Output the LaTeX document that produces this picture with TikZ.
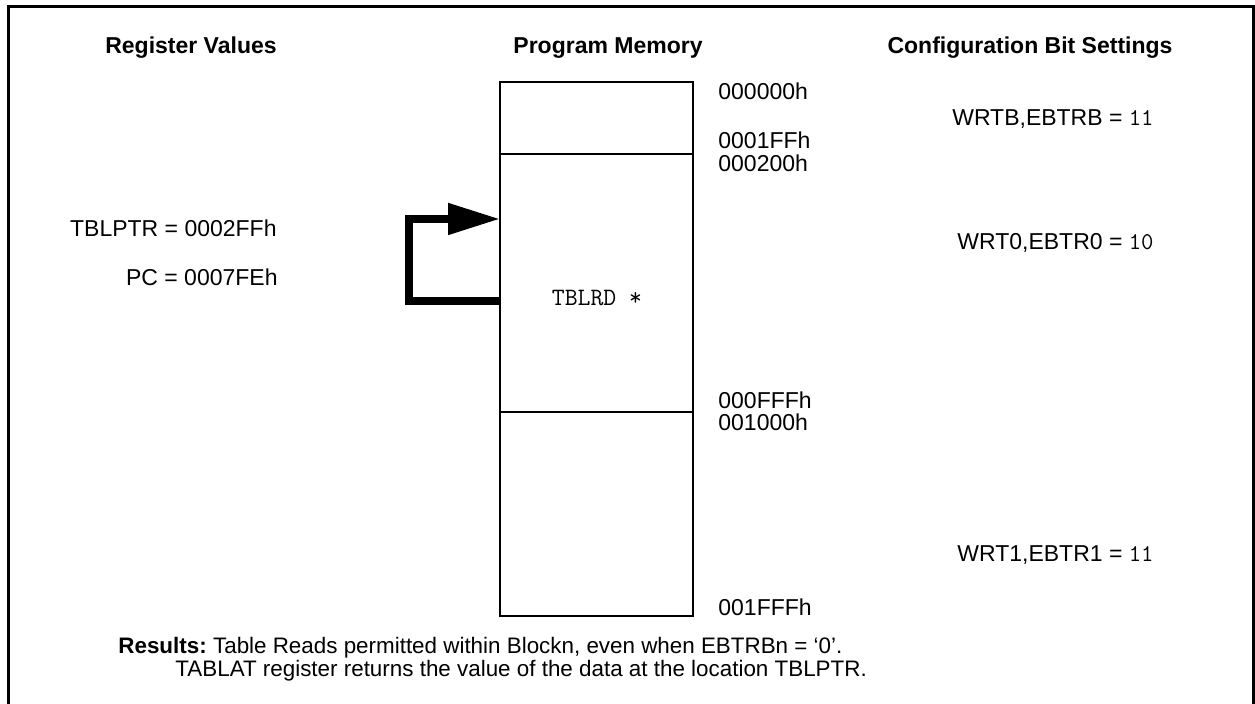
\documentclass[tikz,border=0pt]{standalone}
\usepackage{fontspec}
\setmainfont{Liberation Sans}
\usepackage{tikz}
\usetikzlibrary{arrows.meta}
\newcommand{\bitval}[1]{{\fontsize{12}{14}\ttfamily #1}}

\begin{document}
\begin{tikzpicture}[
    x=0.5pt,y=0.5pt,
    line join=miter,
    frameline/.style={line width=1.5pt, draw=black},
    memblock/.style={draw=black, line width=0.75pt, minimum width=96.5pt, inner sep=0pt, outer sep=0pt},
    heading/.style={font=\fontsize{11.5}{13.8}\selectfont\bfseries, align=center},
    addr/.style={font=\fontsize{11.5}{13.8}\selectfont, anchor=west, inner sep=0pt},
    regval/.style={font=\fontsize{11.5}{13.8}\selectfont, anchor=east, inner sep=0pt},
    cfgbits/.style={font=\fontsize{11.5}{13.8}\selectfont, anchor=east, inner sep=0pt},
    note/.style={font=\fontsize{11.2}{13.4}\selectfont, anchor=west, inner sep=0pt},
    readloop/.style={-{Triangle[length=26pt,width=15pt]}, line width=4pt, line cap=butt}
]
\useasboundingbox (0,0) rectangle (1255,704);

% Outer frame
\draw[frameline] (8,-10) -- (8,697) -- (1253.5,697) -- (1253.5,-10);

% Column headings
\node[heading] (hreg) at (191,656) {Register Values};
\node[heading] (hmem) at (608,656) {Program Memory};
\node[heading] (hcfg) at (1030,656) {Configuration Bit Settings};

% Program memory blocks
\node[memblock, minimum height=36pt]  (blkB) at (596.5,586) {};
\node[memblock, minimum height=129pt] (blk0) at (596.5,421) {};
\node[memblock, minimum height=102pt] (blk1) at (596.5,190) {};
\node[font=\fontsize{12.5}{14}\ttfamily] (tblrd) at (597,406) {TBLRD *};

% Addresses
\node[addr] (a0) at (718,613) {000000h};
\node[addr] (a1) at (718,564) {0001FFh};
\node[addr] (a2) at (718,541) {000200h};
\node[addr] (a3) at (718,304) {000FFFh};
\node[addr] (a4) at (718,282) {001000h};
\node[addr] (a5) at (718,97)  {001FFFh};

% Configuration bits
\node[cfgbits] (cb) at (1154,585) {WRTB,EBTRB = \bitval{11}};
\node[cfgbits] (c0) at (1154,461) {WRT0,EBTR0 = \bitval{10}};
\node[cfgbits] (c1) at (1154,149) {WRT1,EBTR1 = \bitval{11}};

% Register values
\node[regval] (tblptr) at (277,476) {TBLPTR = 0002FFh};
\node[regval] (pc) at (278,427) {PC = 0007FEh};

% Table read loop
\draw[readloop] ([yshift=-9.25pt]blk0.west) -- ++(-45.5pt,0) |- ([yshift=32pt]blk0.west);

% Results
\node[note] (res1) at (118,56) {\textbf{Results:}\hspace{-1pt} Table Reads permitted within Blockn, even when EBTRBn = `0'.};
\node[note] (res2) at (175,33) {TABLAT register returns the value of the data at the location TBLPTR.};

\end{tikzpicture}
\end{document}
